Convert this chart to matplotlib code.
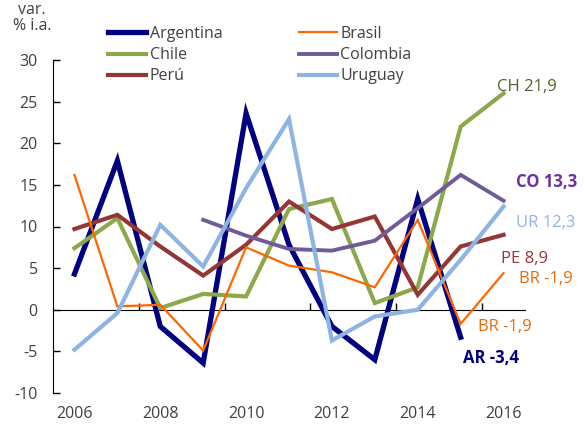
import numpy as np
import matplotlib
matplotlib.use("Agg")
import matplotlib.pyplot as plt

plt.rcParams['font.family'] = ['Open Sans', 'DejaVu Sans']

years = list(range(2006, 2017))
nan = np.nan
argentina = [4.3, 17.9, -2.0, -6.4, 23.6, 7.8, -2.0, -6.0, 13.3, -3.3, nan]
brasil    = [16.2, 0.4, 0.6, -4.9, 7.5, 5.3, 4.5, 2.7, 10.8, -1.7, 4.4]
chile     = [7.4, 11.0, 0.2, 1.9, 1.6, 12.1, 13.3, 0.8, 2.7, 22.0, 26.0]
colombia  = [nan, nan, nan, 10.8, 8.9, 7.3, 7.1, 8.3, 12.2, 16.2, 13.1]
peru      = [9.7, 11.4, 7.6, 4.1, 7.8, 13.0, 9.7, 11.2, 1.8, 7.6, 9.0]
uruguay   = [-4.8, -0.4, 10.2, 5.2, 14.6, 22.9, -3.7, -0.8, 0.0, 6.0, 12.4]

xtick_labels = [2006, 2008, 2010, 2012, 2014, 2016]
yticks = [-10, -5, 0, 5, 10, 15, 20, 25, 30]

end_labels = [
    ("CH 21,9", 2015.85, 26.7, "#4F6228", "normal"),
    ("CO 13,3", 2016.3, 15.3, "#7030A0", "bold"),
    ("UR 12,3", 2016.3, 10.4, "#8DB4E2", "normal"),
    ("PE 8,9", 2015.95, 6.1, "#953735", "normal"),
    ("BR -1,9", 2016.35, 3.7, "#E46C0A", "normal"),
    ("BR -1,9", 2015.4, -2.1, "#E46C0A", "normal"),
    ("AR -3,4", 2015.05, -5.8, "#000080", "bold"),
]

fig = plt.figure(figsize=(5.85, 4.25), dpi=100)
ax = fig.add_axes([53/585, 32/425, (525-53)/585, (393-60)/425])

series = [
    ("Argentina", argentina, "#000080", 3.8),
    ("Chile", chile, "#8BA84B", 3.0),
    ("Perú", peru, "#943634", 3.0),
    ("Brasil", brasil, "#FF6600", 1.6),
    ("Colombia", colombia, "#705A9A", 2.8),
    ("Uruguay", uruguay, "#8DB4E2", 3.0),
]
for name, vals, col, lw in series:
    ax.plot(years, vals, color=col, lw=lw, label=name, solid_joinstyle='miter')

ax.set_xlim(2005.5, 2016.5)
ax.set_ylim(-10, 30)
ax.set_yticks(yticks)
ax.set_yticklabels([str(v) for v in yticks])
ax.set_xticks(xtick_labels)
ax.set_xticklabels([str(v) for v in xtick_labels])
ax.tick_params(axis='x', length=0, pad=9, labelsize=11.5, labelcolor='#404040')
ax.tick_params(axis='y', direction='in', length=5, width=1, pad=11, labelsize=11.5,
               labelcolor='#404040')
for s in ['top', 'right', 'bottom']:
    ax.spines[s].set_visible(False)
ax.spines['left'].set_color('black')

sec = ax.secondary_xaxis(0.25)
sec.set_xticks([2007.5, 2009.5, 2011.5, 2013.5, 2015.5])
sec.set_xticklabels([])
sec.tick_params(direction='in', length=5, width=1)
sec.spines['bottom'].set_color('black')

for txt, x, y, col, wt in end_labels:
    ax.text(x, y, txt, color=col, fontsize=12, fontweight=wt, ha='left', va='center',
            clip_on=False)

fig.text(32/585, 1 - 18/425, "var.\n% i.a.", ha='center', va='center', fontsize=11.5,
         color='#404040', linespacing=0.95)

leg = ax.legend(ncol=2, loc='upper left', bbox_to_anchor=(108/585, 1 - 26/425),
                bbox_transform=fig.transFigure, frameon=False, fontsize=11.5,
                handlelength=2.4, handletextpad=0.2, columnspacing=4.8,
                labelspacing=0.32, borderaxespad=0, borderpad=0)
for t in leg.get_texts():
    t.set_color('#404040')

fig.savefig("out.png", dpi=100)
